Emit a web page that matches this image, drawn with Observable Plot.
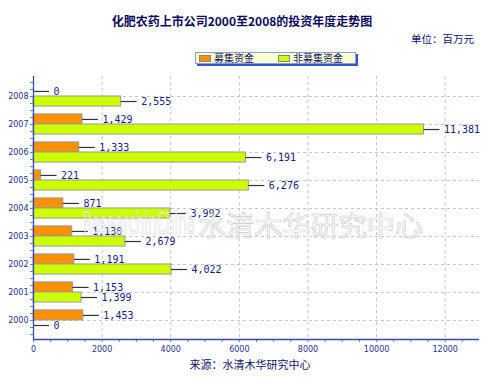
<!DOCTYPE html>
<html><head><meta charset="utf-8">
<script src="https://cdn.jsdelivr.net/npm/d3@7"></script>
<script src="https://cdn.jsdelivr.net/npm/@observablehq/plot@0.6"></script>
<style>
body{margin:0;background:#fff;}
#wrap{position:relative;width:492px;height:378px;overflow:hidden;background:#fff;font-family:"Noto Sans CJK SC","Noto Sans",sans-serif;}
#wrap svg{position:absolute;left:0;top:0;}
.t{position:absolute;white-space:nowrap;color:#10106a;}
#title{left:0;width:484px;top:12px;text-align:center;font-size:12px;font-weight:bold;line-height:18px;color:#0a0a5a;}
#unit{left:411px;top:31px;font-size:10.5px;line-height:16px;}
#legend{position:absolute;left:195px;top:52px;width:159px;height:10px;background:#ffffd2;border:1px solid #8ea0d8;box-shadow:2px 2px 0 #2f55d0;font-size:10px;line-height:10px;color:#10106a;}
#legend .sw{position:absolute;top:1.5px;width:12px;height:7px;border:0.5px solid #888;box-sizing:border-box;}
#legend .lb{position:absolute;top:0;}
#source{left:0;width:500px;top:356px;text-align:center;font-size:11px;line-height:16px;}
</style></head><body>
<div id="wrap">
  <div class="t" id="title"></div>
  <div class="t" id="unit"></div>
  <div id="legend"></div>
  <div class="t" id="source"></div>
</div>
<script>
const title = "化肥农药上市公司2000至2008的投资年度走势图";
const unitText = "单位：百万元";
const sourceText = "来源：水清木华研究中心";
const watermark = ["ResearchInChina", "水清木华研究中心"];
const years = ["2008","2007","2006","2005","2004","2003","2002","2001","2000"];
const seriesNames = ["募集资金","非募集资金"];
const raised = [0,1429,1333,221,871,1130,1191,1153,1453];
const nonRaised = [2555,11381,6191,6276,3992,2679,4022,1399,0];
const xTicks = [0,2000,4000,6000,8000,10000,12000];
const colors = ["#ff9000","#ccff00"];

document.getElementById("title").textContent = title;
document.getElementById("unit").textContent = unitText;
document.getElementById("source").textContent = sourceText;
const lg = document.getElementById("legend");
[[3,18],[82,97]].forEach(([sx,tx],k)=>{
  const s=document.createElement("div");s.className="sw";s.style.left=sx+"px";s.style.background=colors[k];lg.appendChild(s);
  const t=document.createElement("div");t.className="lb";t.style.left=tx+"px";t.textContent=seriesNames[k];lg.appendChild(t);
});

const barH = 0.36;
const rows = years.flatMap((year,i)=>[
  {year, i, series: seriesNames[0], value: raised[i], y1: i-barH, y2: i},
  {year, i, series: seriesNames[1], value: nonRaised[i], y1: i, y2: i+barH}
]);
const yTop = -0.714, yBot = 8.68;
const leadLen = 16*13000/446;
const fmt = d3.format(",");
const quarter = d3.range(-0.5, 8.7, 0.25);
const grid = {stroke:"#c4c4c4", strokeDasharray:"3,3", strokeWidth:1};

const chart = Plot.plot({
  width: 492, height: 378,
  marginTop: 76, marginBottom: 39, marginLeft: 33, marginRight: 13,
  style: {background:"transparent", overflow:"visible"},
  x: {domain:[0,13000], range:[33,479]},
  y: {domain:[yTop,yBot], range:[76,339]},
  color: {domain: seriesNames, range: colors},
  marks: [
    Plot.ruleX(xTicks.filter(d=>d>0), {...grid, y1: yTop, y2: yBot}),
    Plot.ruleY(d3.range(years.length), {...grid, x1: 0, x2: 13000}),
    Plot.rectX(rows.filter(d=>d.value>0), {x1:0, x2:"value", y1:"y1", y2:"y2", fill:"series", stroke:"#9a9a9a", strokeWidth:1}),
    Plot.ruleY(rows, {y: d=>(d.y1+d.y2)/2, x1:"value", x2: d=>d.value+leadLen, stroke:"#333", strokeWidth:1.2}),
    Plot.text(rows, {x:"value", y: d=>(d.y1+d.y2)/2, text: d=>fmt(d.value), dx: 20, textAnchor:"start", fill:"#1a1a80", fontFamily:"DejaVu Sans Mono", fontSize:10}),
    Plot.axisY({ticks: quarter, tickSize: 3, tickFormat: null, text: null, stroke:"#3c8fe0", label:null}),
    Plot.axisY({ticks: d3.range(years.length), tickFormat: i=>years[i], tickSize: 0, tickPadding: 5, fill:"#1f2f88", fontFamily:"DejaVu Sans", fontSize: 8, label:null}),
    Plot.axisX({ticks: d3.range(0,12501,500), tickFormat: d=> d%2000===0 ? String(d) : "", tickSize: 3, tickPadding: 4, stroke:"#3c8fe0", fill:"#1f2f88", fontFamily:"DejaVu Sans", fontSize: 8, label:null}),
    Plot.ruleX([0], {y1: yTop, y2: yBot, stroke:"#3848b0", strokeWidth:1.3}),
    Plot.ruleY([yBot], {x1: 0, x2: 13000, stroke:"#3848b0", strokeWidth:1.3})
  ]
});
document.getElementById("wrap").prepend(chart);

// faint watermark, as in the reference
const svg = d3.select(chart);
const wm = svg.append("g").attr("text-anchor","start").attr("fill","#ffffff").attr("fill-opacity",0.6).attr("stroke","#b8b8b8").attr("stroke-width",0.7).attr("stroke-opacity",0.75);
wm.append("text").attr("x",83).attr("y",234).attr("font-family","Liberation Sans Narrow, DejaVu Sans Condensed, sans-serif").attr("font-size",32).attr("textLength",112).attr("lengthAdjust","spacingAndGlyphs").text(watermark[0]);
wm.append("text").attr("x",198).attr("y",236).attr("font-family","Noto Sans CJK SC").attr("font-size",27).attr("textLength",225).attr("lengthAdjust","spacingAndGlyphs").text(watermark[1]);
</script>
</body></html>
